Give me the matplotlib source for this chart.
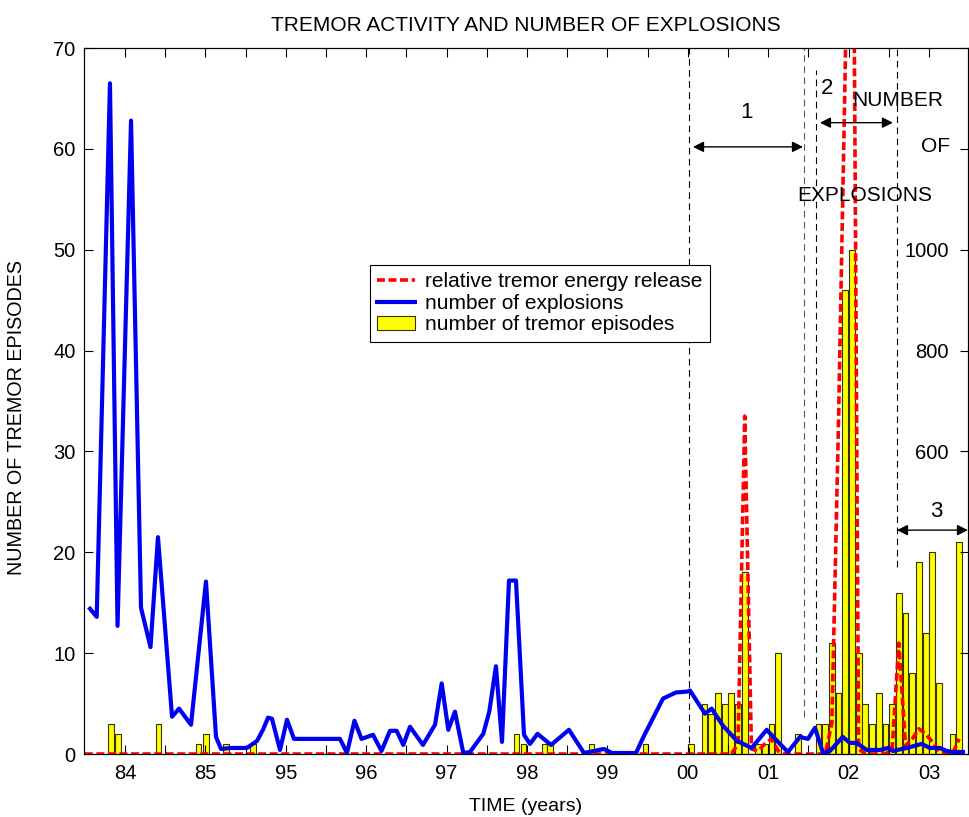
import matplotlib.pyplot as plt
import numpy as np

plt.rcParams['font.family'] = ['Liberation Sans', 'DejaVu Sans']

# time axis: one unit per labelled year (84, 85, then 95 .. 03)
year_labels = ['84', '85', '95', '96', '97', '98', '99', '00', '01', '02', '03']

# tremor episodes before 2000 (time index, count)
early_ep_t = [-0.174, -0.087, 0.417, 0.914, 1.007, 1.256, 1.592,
              4.869, 4.956, 5.218, 5.286, 5.802, 6.474]
early_ep_n = [3, 2, 3, 1, 2, 1, 1, 2, 1, 1, 1, 1, 1]

# monthly tremor episodes and relative energy, Jan 2000 - May 2003
monthly_ep = [1, 0, 5, 4, 6, 5, 6, 5, 18, 0, 1, 1,
              3, 10, 0, 0, 2, 0, 0, 3, 3, 11, 6, 46,
              50, 10, 5, 3, 6, 3, 5, 16, 14, 8, 19, 12,
              20, 7, 0, 2, 21]
monthly_energy = [0, 0, 0, 0, 0, 0, 0, 1.0, 33.5, 0.5, 0.3, 1.0,
                  1.5, 0.3, 0, 0, 0, 0, 0, 0, 0, 3, 33, 68,
                  110, 0.5, 0, 0, 0, 0, 0.5, 11, 0.8, 1.5, 2.5, 2.0,
                  1.2, 0.3, 0, 0, 1.5]

# number of explosions (time index, count)
expl_t = [-0.435, -0.352, -0.187, -0.093, 0.075, 0.199, 0.317, 0.410, 0.585, 0.672,
          0.821, 1.007, 1.132, 1.194, 1.318, 1.517, 1.642, 1.716, 1.779, 1.828,
          1.928, 2.015, 2.102, 2.674, 2.761, 2.854, 2.942, 3.085, 3.190, 3.296,
          3.379, 3.461, 3.545, 3.706, 3.856, 3.939, 4.021, 4.104, 4.208, 4.291,
          4.456, 4.531, 4.614, 4.689, 4.776, 4.863, 4.963, 5.037, 5.131, 5.299,
          5.522, 5.709, 5.958, 6.057, 6.356, 6.455, 6.692, 6.853, 7.002, 7.027,
          7.214, 7.297, 7.438, 7.612, 7.795, 7.981, 8.147, 8.246, 8.396, 8.495,
          8.582, 8.682, 8.769, 8.927, 9.017, 9.101, 9.225, 9.391, 9.490, 9.552,
          9.723, 9.909, 10.012, 10.137, 10.220, 10.299, 10.423]
expl_n = [288, 272, 1330, 254, 1256, 290, 212, 430, 74, 90,
          58, 342, 34, 10, 12, 12, 26, 48, 72, 70,
          8, 68, 30, 30, 2, 66, 30, 38, 6, 46,
          46, 18, 54, 18, 58, 140, 48, 84, 2, 4,
          40, 84, 174, 24, 344, 344, 38, 20, 40, 18,
          48, 2, 10, 2, 2, 36, 110, 122, 124, 126,
          80, 90, 56, 26, 12, 48, 20, 4, 34, 30,
          52, 2, 6, 34, 22, 22, 8, 8, 12, 6,
          12, 20, 12, 12, 6, 4, 4]

month_t = 7 + (np.arange(len(monthly_ep)) + 0.5) / 12
energy_t = np.concatenate([[-0.5], month_t])
energy = np.concatenate([[0], monthly_energy])

fig = plt.figure(figsize=(9.7, 8.17), dpi=100)
ax = fig.add_axes([0.0866, 0.0771, 0.9113, 0.8641])

ax.bar(early_ep_t, early_ep_n, width=0.072, color='yellow', edgecolor='#333300', linewidth=0.8)
bars = ax.bar(month_t, monthly_ep, width=0.072, color='yellow', edgecolor='#333300',
              linewidth=0.8, label='number of tremor episodes')
red, = ax.plot(energy_t, energy, color='red', linewidth=2.6, linestyle=(0, (2.2, 1)),
               label='relative tremor energy release')

ax2 = ax.twinx()
blue, = ax2.plot(expl_t, expl_n, color='#0000f0', linewidth=3, label='number of explosions')
ax2.set_ylim(0, 1400)

ax.set_xlim(-0.51, 10.485)
ax.set_ylim(0, 70)

ticks = np.arange(0, 10.5, 0.5)
ax.set_xticks(ticks)
ax.set_xticklabels([year_labels[int(t)] if t == int(t) else '' for t in ticks], fontsize=14.5)
ax.set_yticks(range(0, 71, 10))
ax.tick_params(axis='y', labelsize=14.5, direction='in', length=6.5, pad=6, right=False)
ax.tick_params(axis='x', direction='in', length=6.5, pad=7, top=True)

ax2.set_yticks(range(0, 1401, 200))
ax2.set_yticklabels(['', '', '', '600', '800', '1000', '', ''], ha='right', fontsize=14.5)
ax2.tick_params(axis='y', direction='in', length=6, pad=-14)

# period markers
ax.plot([7.015, 7.015], [0, 70], color='k', linewidth=0.8, linestyle=(0, (6, 4)))
ax.plot([8.44, 8.44], [3.7, 70], color='0.35', linewidth=0.8, linestyle=(0, (6, 4)))
ax.plot([8.594, 8.594], [3.5, 67.8], color='k', linewidth=0.8, linestyle=(0, (6, 4)))
ax.plot([9.602, 9.602], [18.5, 70], color='k', linewidth=0.8, linestyle=(0, (6, 4)))

arrow = dict(arrowstyle='<|-|>', color='k', lw=1, mutation_scale=16, shrinkA=0, shrinkB=0)
ax.annotate('', xy=(8.433, 60.2), xytext=(7.065, 60.2), arrowprops=arrow)
ax.annotate('', xy=(9.552, 62.6), xytext=(8.644, 62.6), arrowprops=arrow)
ax.annotate('', xy=(10.485, 22.2), xytext=(9.602, 22.2), arrowprops=arrow, annotation_clip=False)
ax.text(7.736, 63.6, '1', fontsize=16, ha='center', va='center')
ax.text(8.731, 66.0, '2', fontsize=16, ha='center', va='center')
ax.text(10.087, 24.0, '3', fontsize=16, ha='center', va='center')

ax.text(9.614, 64.8, 'NUMBER', fontsize=15, ha='center', va='center')
ax.text(10.087, 60.2, 'OF', fontsize=15, ha='center', va='center')
ax.text(9.204, 55.4, 'EXPLOSIONS', fontsize=15, ha='center', va='center')

ax.set_title('TREMOR ACTIVITY AND NUMBER OF EXPLOSIONS', fontsize=15, pad=12)
ax.set_xlabel('TIME (years)', fontsize=14)
ax.set_ylabel('NUMBER OF TREMOR EPISODES', fontsize=14.2)
ax.xaxis.set_label_coords(0.5, -0.062)
ax.yaxis.set_label_coords(-0.066, 0.476)

leg = ax2.legend([red, blue, bars], [red.get_label(), blue.get_label(), bars.get_label()],
                 loc='upper left', bbox_to_anchor=(0.3235, 0.6926), borderaxespad=0,
                 fontsize=15, handlelength=1.8, handletextpad=0.5, labelspacing=0.12,
                 borderpad=0.35, fancybox=False, framealpha=1, edgecolor='k')
leg.get_frame().set_linewidth(0.8)

fig.savefig('out.png', dpi=100)
